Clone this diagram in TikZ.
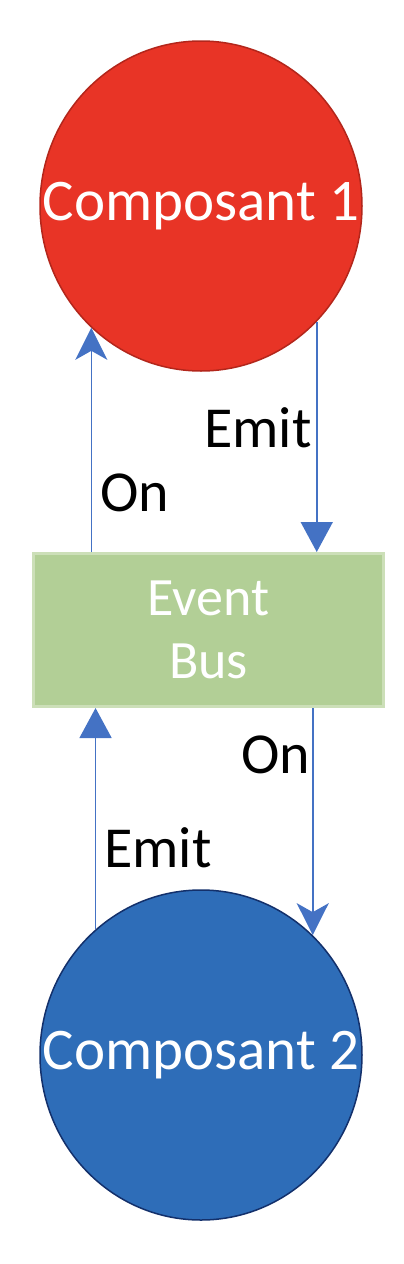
\documentclass[tikz,border=0pt]{standalone}
\usepackage{fontspec}
\setmainfont{Carlito}
\usetikzlibrary{shapes.geometric,arrows.meta,positioning}
\definecolor{compred}{HTML}{E83426}
\definecolor{compredd}{HTML}{B3261B}
\definecolor{compblue}{HTML}{2E6DB8}
\definecolor{compblued}{HTML}{13306B}
\definecolor{busgreen}{HTML}{B2CF96}
\definecolor{busgreenlt}{HTML}{CCDFB8}
\definecolor{linkblue}{HTML}{4472C4}
\tikzset{
  comp/.style={ellipse,draw=#1d,fill=#1,line width=1.5pt,
               minimum width=322pt,minimum height=330pt,
               inner xsep=-60pt,inner ysep=0pt,
               font=\fontsize{59}{66}\selectfont,text=white,align=center},
  bus/.style={rectangle,draw=busgreenlt,fill=busgreen,line width=3pt,
              minimum width=350pt,minimum height=153pt,
              font=\fontsize{54}{63}\selectfont,text=white,align=center},
  onarr/.style={-{Stealth[length=32pt,width=32pt,inset=9pt]},line width=1.6pt,color=linkblue},
  emarr/.style={-{Triangle[length=30pt,width=32pt]},line width=1.6pt,color=linkblue},
  lbl/.style={font=\fontsize{58}{66}\selectfont,color=black},
}
\begin{document}
\begin{tikzpicture}
  \useasboundingbox (0,0) rectangle (404pt,-1264pt);

  \node[comp=compred]  (c1) at (201pt,-206pt)  {Composant 1};
  \node[bus]           (eb) at (208.5pt,-630pt) {Event\\Bus};
  \node[comp=compblue] (c2) at (201pt,-1055pt) {Composant 2};

  % top pair
  \draw[onarr] (eb.north -| c1.228) -- (c1.228);
  \draw[emarr] (c1.315) -- (eb.north -| c1.315);
  % bottom pair
  \draw[emarr] (c2.130) -- (eb.south -| c2.130);
  \draw[onarr] (eb.south -| c2.47) -- (c2.47);

  \node[lbl] (l1) at (258pt,-428pt)  {Emit};
  \node[lbl] (l2) at (135pt,-493pt)  {On};
  \node[lbl] (l3) at (276pt,-755pt)  {On};
  \node[lbl] (l4) at (158pt,-848pt)  {Emit};
\end{tikzpicture}
\end{document}
